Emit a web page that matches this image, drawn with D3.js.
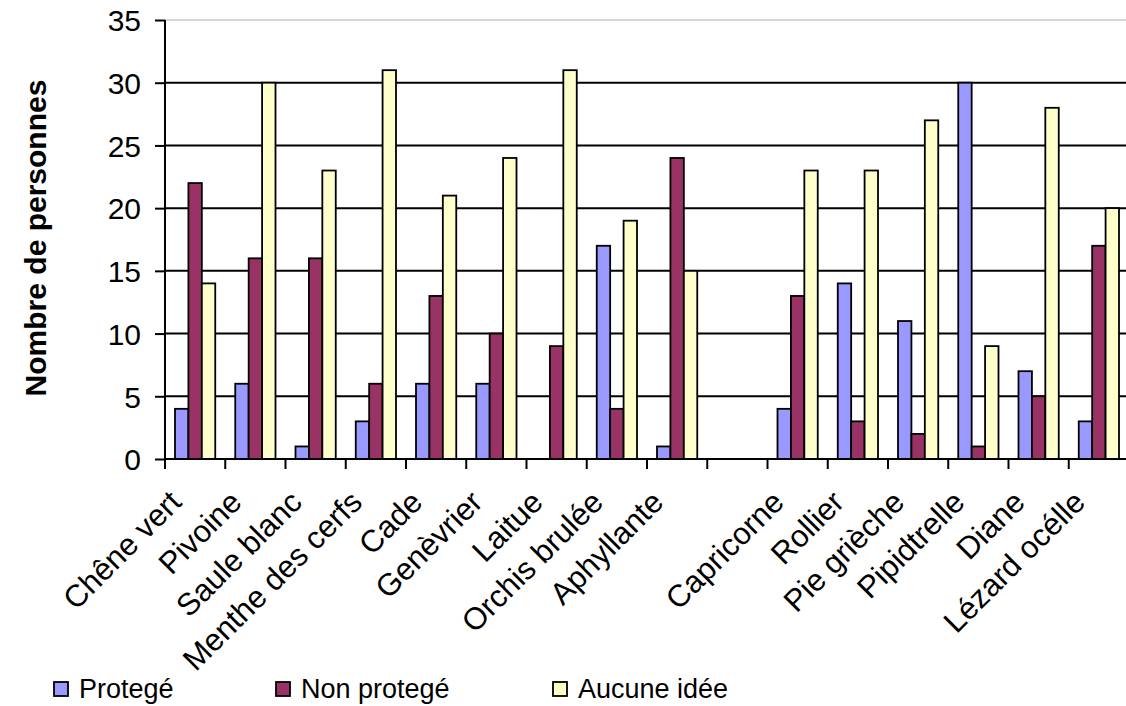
<!DOCTYPE html>
<html>
<head>
<meta charset="utf-8">
<script src="https://cdn.jsdelivr.net/npm/d3@7"></script>
<style>
  html, body { margin: 0; padding: 0; background: #fff; }
  svg { display: block; font-family: "Liberation Sans", Arial, sans-serif; }
</style>
</head>
<body>
<svg id="chart" width="1126" height="706"></svg>
<script>
// Species / categories (an empty slot separates plants from animals)
const categories = [
  "Chêne vert", "Pivoine", "Saule blanc", "Menthe des cerfs", "Cade",
  "Genèvrier", "Laitue", "Orchis brulée", "Aphyllante", "",
  "Capricorne", "Rollier", "Pie grièche", "Pipidtrelle", "Diane", "Lézard océlle"
];
const seriesNames = ["Protegé", "Non protegé", "Aucune idée"];
const protege    = [4, 6, 1, 3, 6, 6, 0, 17, 1, null, 4, 14, 11, 30, 7, 3];
const nonProtege = [22, 16, 16, 6, 13, 10, 9, 4, 24, null, 13, 3, 2, 1, 5, 17];
const aucuneIdee = [14, 30, 23, 31, 21, 24, 31, 19, 15, null, 23, 23, 27, 9, 28, 20];
const yTicks = [0, 5, 10, 15, 20, 25, 30, 35];
const colors = ["#9999FF", "#993366", "#FFFFCC"];

const svg = d3.select("#chart");
const plotLeft = 165, plotTop = 20, plotBottom = 459;
const catW = 60.25;
const plotRight = plotLeft + catW * categories.length;

const y = d3.scaleLinear().domain([0, 35]).range([plotBottom, plotTop]);
const x0 = d3.scaleBand().domain(d3.range(categories.length)).range([plotLeft, plotRight]).padding(0);
const gap = 20;
const x1 = d3.scaleBand().domain(d3.range(3)).range([gap / 2, x0.bandwidth() - gap / 2]).padding(0);

// top border of plot area
svg.append("line")
  .attr("x1", plotLeft).attr("x2", plotRight).attr("y1", y(35)).attr("y2", y(35))
  .attr("stroke", "#c8c8c8").attr("stroke-width", 1.5);

// horizontal gridlines
svg.append("g").selectAll("line")
  .data(yTicks.filter(t => t > 0 && t < 35))
  .join("line")
  .attr("x1", plotLeft).attr("x2", plotRight)
  .attr("y1", d => y(d)).attr("y2", d => y(d))
  .attr("stroke", "#000").attr("stroke-width", 2);

// bars
const series = [protege, nonProtege, aucuneIdee];
series.forEach((vals, s) => {
  svg.append("g").selectAll("rect")
    .data(vals.map((v, i) => ({ v, i })).filter(d => d.v != null && d.v > 0))
    .join("rect")
    .attr("x", d => x0(d.i) + x1(s))
    .attr("width", x1.bandwidth())
    .attr("y", d => y(d.v))
    .attr("height", d => y(0) - y(d.v))
    .attr("fill", colors[s])
    .attr("stroke", "#000")
    .attr("stroke-width", 1.8);
});

// y axis
const yAxis = d3.axisLeft(y).tickValues(yTicks).tickSize(10).tickPadding(14);
const gy = svg.append("g").attr("transform", `translate(${plotLeft},0)`).call(yAxis);
gy.select(".domain").attr("stroke", "#000").attr("stroke-width", 2).attr("d", `M0,${y(35)}V${y(0)}`);
gy.selectAll(".tick line").attr("stroke", "#000").attr("stroke-width", 2);
gy.selectAll(".tick text").attr("font-size", 30).attr("fill", "#000")
  .attr("font-family", "Liberation Sans, Arial, sans-serif").attr("dy", "0.36em");

// x axis baseline and category ticks
const xTickPos = d3.range(categories.length + 1).map(i => plotLeft + i * catW);
svg.append("line").attr("x1", plotLeft).attr("x2", plotRight).attr("y1", plotBottom).attr("y2", plotBottom)
  .attr("stroke", "#000").attr("stroke-width", 2.2);
svg.append("g").selectAll("line").data(xTickPos).join("line")
  .attr("x1", d => d).attr("x2", d => d).attr("y1", plotBottom).attr("y2", plotBottom + 10)
  .attr("stroke", "#000").attr("stroke-width", 2);

// rotated category labels
svg.append("g").selectAll("text").data(categories.map((c, i) => ({ c, i })))
  .join("text")
  .attr("transform", d => `translate(${x0(d.i) + x0.bandwidth() / 2 - 12},${plotBottom + 45}) rotate(-45)`)
  .attr("text-anchor", "end")
  .attr("font-size", 31)
  .attr("fill", "#000")
  .text(d => d.c);

// y axis title
svg.append("text")
  .attr("transform", `translate(46,238) rotate(-90)`)
  .attr("text-anchor", "middle")
  .attr("font-size", 30)
  .attr("font-weight", "bold")
  .attr("fill", "#000")
  .text("Nombre de personnes");

// legend
const legendX = [54, 276, 553];
const lg = svg.append("g");
seriesNames.forEach((name, s) => {
  lg.append("rect").attr("x", legendX[s]).attr("y", 682).attr("width", 14).attr("height", 14)
    .attr("fill", colors[s]).attr("stroke", "#000").attr("stroke-width", 1.8);
  lg.append("text").attr("x", legendX[s] + 25).attr("y", 698)
    .attr("font-size", 27).attr("fill", "#000").text(name);
});
</script>
</body>
</html>
